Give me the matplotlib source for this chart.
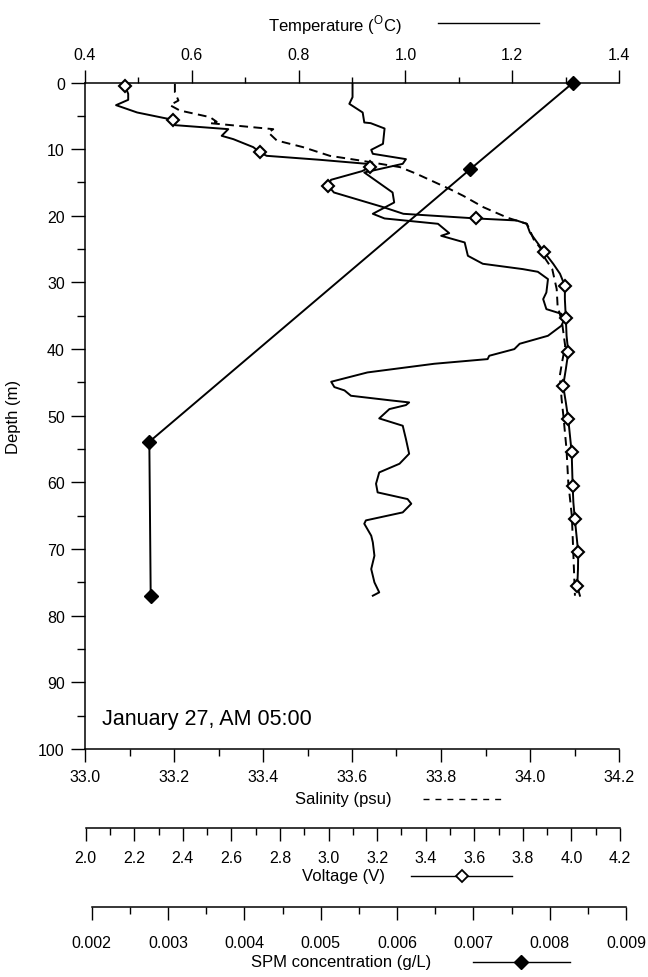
import matplotlib
matplotlib.use('Agg')
import matplotlib.pyplot as plt
from matplotlib.lines import Line2D
from matplotlib.ticker import MultipleLocator, FormatStrFormatter

plt.rcParams['font.family'] = ['Liberation Sans', 'DejaVu Sans']
plt.rcParams['mathtext.fontset'] = 'custom'
plt.rcParams['mathtext.rm'] = 'Liberation Sans'

# ---------------- data ----------------
temp_depth = [0.0, 2.2, 3.2, 4.5, 6.0, 6.1, 6.9, 9.2, 10.1, 10.7, 11.5, 12.2, 13.5, 16.5, 18.0,
              19.7, 20.4, 21.2, 22.6, 23.0, 24.0, 26.0, 27.2, 28.0, 28.4, 29.5, 31.5, 32.5, 34.0, 34.7,
              35.5, 36.5, 38.0, 39.2, 40.0, 41.0, 41.5, 42.2, 43.5, 44.9, 45.7, 46.2, 47.0, 47.7, 48.0,
              48.4, 49.0, 50.4, 51.5, 53.5, 55.7, 57.2, 58.5, 60.2, 61.5, 62.5, 63.2, 64.5, 65.7, 66.2,
              68.0, 69.0, 71.0, 73.0, 75.0, 76.5, 77.0]
temp_values = [0.901, 0.901, 0.895, 0.920, 0.923, 0.935, 0.961, 0.958, 0.936, 0.939, 1.001, 0.995, 0.923, 0.976, 0.979,
               0.939, 0.961, 1.061, 1.082, 1.067, 1.111, 1.117, 1.145, 1.220, 1.248, 1.267, 1.264, 1.258, 1.264, 1.292,
               1.298, 1.292, 1.267, 1.214, 1.204, 1.157, 1.154, 1.054, 0.929, 0.861, 0.867, 0.886, 0.898, 0.973, 1.007,
               1.001, 0.970, 0.951, 0.995, 1.001, 1.007, 0.989, 0.951, 0.945, 0.948, 1.004, 1.011, 0.995, 0.926, 0.923,
               0.936, 0.939, 0.942, 0.936, 0.942, 0.951, 0.939]

sal_depth = [0.2, 1.5, 2.7, 3.4, 4.2, 5.2, 5.9, 6.1, 7.0, 7.5, 8.7, 9.7, 11.0, 11.7, 12.7,
             13.7, 16.0, 17.0, 18.7, 20.3, 21.2, 22.2, 23.5, 25.0, 26.5, 28.0, 31.0, 33.5, 36.0, 39.5,
             42.0, 44.0, 47.5, 50.0, 55.0, 60.0, 65.0, 70.0, 77.0]
sal_values = [33.202, 33.202, 33.210, 33.191, 33.213, 33.281, 33.296, 33.281, 33.423, 33.412, 33.431, 33.49, 33.55, 33.618, 33.708,
              33.745, 33.820, 33.850, 33.895, 33.950, 33.993, 34.000, 34.008, 34.025, 34.035, 34.050, 34.060, 34.062, 34.072, 34.079,
              34.072, 34.067, 34.071, 34.075, 34.082, 34.086, 34.094, 34.097, 34.101]

volt_depth = [0.5, 1.7, 2.6, 3.4, 4.5, 5.3, 5.6, 6.4, 7.0, 8.0, 8.5, 9.7, 10.5, 11.0, 11.6, 12.2, 12.7, 13.3, 14.6,
              15.5, 16.5, 18.7, 19.7, 20.4, 20.7, 21.2, 22.5, 25.4, 27.2, 28.7, 30.5, 32.5, 35.4, 38.0, 40.5, 43.0,
              45.5, 48.0, 50.5, 53.0, 55.5, 58.0, 60.5, 63.0, 65.5, 68.0, 70.5, 73.0, 75.6, 77.0]
volt_values = [2.162, 2.175, 2.175, 2.125, 2.212, 2.319, 2.361, 2.368, 2.587, 2.560, 2.608, 2.690, 2.718, 2.745, 2.965, 3.157, 3.170, 3.138, 3.010,
               2.999, 3.022, 3.225, 3.308, 3.609, 3.774, 3.816, 3.829, 3.887, 3.925, 3.953, 3.973, 3.973, 3.977, 3.980, 3.987, 3.977,
               3.966, 3.977, 3.987, 3.994, 4.001, 4.003, 4.005, 4.008, 4.014, 4.021, 4.028, 4.027, 4.024, 4.035]
volt_marker_depths = [0.5, 5.6, 10.5, 12.7, 15.5, 20.4, 25.4, 30.5, 35.4, 40.5, 45.5, 50.5, 55.5, 60.5, 65.5, 70.5, 75.6]

spm_depth = [0.0, 13.0, 53.9, 77.1]
spm_values = [0.00831, 0.00696, 0.002755, 0.002773]

depth_ticks = list(range(0, 101, 10))
temp_range = (0.4, 1.4)
sal_range = (33.0, 34.2)
volt_range = (2.0, 4.2)
spm_range = (0.002, 0.009)

# ---------------- layout (pixels) ----------------
W, H = 648, 978
fig = plt.figure(figsize=(W / 100, H / 100), dpi=100)


def fx(px):
    return px / W


def fy(py):
    return 1 - py / H


L, R = 85, 619
TOP, BOT = 83.5, 750
V_L, V_R, V_Y = 85.7, 620, 829
S_L, S_R, S_Y = 91.7, 626, 908

FS = 11.5
FT = 12
LW_SP = 1.1

ax = fig.add_axes([fx(L), fy(BOT), (R - L) / W, (BOT - TOP) / H])
ax.set_xlim(*sal_range)
ax.set_ylim(100, 0)
for s in ['top', 'right']:
    ax.spines[s].set_visible(False)
for s in ['left', 'bottom']:
    ax.spines[s].set_linewidth(LW_SP)
ax.xaxis.set_major_locator(MultipleLocator(0.2))
ax.xaxis.set_minor_locator(MultipleLocator(0.1))
ax.xaxis.set_major_formatter(FormatStrFormatter('%.1f'))
ax.set_yticks(depth_ticks)
ax.yaxis.set_minor_locator(MultipleLocator(5))
ax.tick_params(axis='x', which='major', direction='out', length=9.5, width=1.0, pad=5, labelsize=FS)
ax.tick_params(axis='x', which='minor', direction='out', length=5, width=1.0)
ax.tick_params(axis='y', which='major', direction='out', length=10, width=1.0, pad=4.5, labelsize=FS)
ax.tick_params(axis='y', which='minor', direction='out', length=6, width=1.0)
ax.tick_params(top=False, right=False, which='both')

# temperature (top axis)
ax_t = ax.twiny()
ax_t.set_xlim(*temp_range)
for s in ['bottom', 'left', 'right']:
    ax_t.spines[s].set_visible(False)
ax_t.spines['top'].set_linewidth(LW_SP)
ax_t.xaxis.set_major_locator(MultipleLocator(0.2))
ax_t.xaxis.set_minor_locator(MultipleLocator(0.1))
ax_t.xaxis.set_major_formatter(FormatStrFormatter('%.1f'))
ax_t.tick_params(axis='x', which='major', direction='out', length=9.5, width=1.0, pad=5, labelsize=FS)
ax_t.tick_params(axis='x', which='minor', direction='out', length=4.5, width=1.0)

# voltage data axes (hidden), aligned with voltage scale below
vper = (volt_range[1] - volt_range[0]) / (V_R - V_L)
ax_v = ax.twiny()
ax_v.set_xlim(volt_range[0] + (L - V_L) * vper, volt_range[0] + (R - V_L) * vper)
ax_v.set_axis_off()

sper = (spm_range[1] - spm_range[0]) / (S_R - S_L)
ax_s = ax.twiny()
ax_s.set_xlim(spm_range[0] + (L - S_L) * sper, spm_range[0] + (R - S_L) * sper)
ax_s.set_axis_off()

# curves
ax_t.plot(temp_values, temp_depth, color='k', lw=1.4, zorder=3)
ax.plot(sal_values, sal_depth, color='k', lw=1.4, ls=(0, (4.5, 2.8)), zorder=3)
mk_idx = [volt_depth.index(d) for d in volt_marker_depths]
ax_v.plot(volt_values, volt_depth, color='k', lw=1.4, marker='D', markevery=mk_idx,
          ms=6.5, mfc='white', mec='k', mew=1.5, zorder=4, clip_on=False)
ax_s.plot(spm_values, spm_depth, color='k', lw=1.4, marker='D', ms=7, mfc='k', mec='k',
          zorder=5, clip_on=False)

# voltage scale strip
axv = fig.add_axes([fx(V_L), fy(V_Y), (V_R - V_L) / W, 0.0005])
axv.set_xlim(*volt_range)
axv.patch.set_visible(False)
for s in ['top', 'left', 'right']:
    axv.spines[s].set_visible(False)
axv.spines['bottom'].set_linewidth(LW_SP)
axv.set_yticks([])
axv.xaxis.set_major_locator(MultipleLocator(0.2))
axv.xaxis.set_minor_locator(MultipleLocator(0.1))
axv.xaxis.set_major_formatter(FormatStrFormatter('%.1f'))
axv.tick_params(axis='x', which='major', direction='out', length=9, width=1.0, pad=7, labelsize=FS)
axv.tick_params(axis='x', which='minor', direction='out', length=5, width=1.0)

# SPM scale strip
axs = fig.add_axes([fx(S_L), fy(S_Y), (S_R - S_L) / W, 0.0005])
axs.set_xlim(*spm_range)
axs.patch.set_visible(False)
for s in ['top', 'left', 'right']:
    axs.spines[s].set_visible(False)
axs.spines['bottom'].set_linewidth(LW_SP)
axs.set_yticks([])
axs.xaxis.set_major_locator(MultipleLocator(0.001))
axs.xaxis.set_minor_locator(MultipleLocator(0.0005))
axs.xaxis.set_major_formatter(FormatStrFormatter('%.3f'))
axs.tick_params(axis='x', which='major', direction='out', length=9.5, width=1.0, pad=11, labelsize=FS)
axs.tick_params(axis='x', which='minor', direction='out', length=5, width=1.0)

# titles with legend samples
fig.text(fx(268), fy(25), r'Temperature ($^{\mathrm{O}}$C)', ha='left', va='center', fontsize=FT)
fig.add_artist(Line2D([fx(437.6), fx(538.5)], [fy(24), fy(24)], transform=fig.transFigure, color='k', lw=1.0))

fig.text(fx(295), fy(800), 'Salinity (psu)', ha='left', va='center', fontsize=FT)
fig.add_artist(Line2D([fx(423), fx(506)], [fy(800), fy(800)], transform=fig.transFigure, color='k', lw=1.0,
                      ls=(0, (4.3, 4.3))))

fig.text(fx(302), fy(877), 'Voltage (V)', ha='left', va='center', fontsize=FT)
fig.add_artist(Line2D([fx(410.6), fx(512)], [fy(877), fy(877)], transform=fig.transFigure, color='k', lw=1.0))
fig.add_artist(Line2D([fx(462)], [fy(877)], transform=fig.transFigure, marker='D', ms=6.5, mfc='white',
                      mec='k', mew=1.3, ls='none'))

fig.text(fx(251), fy(963), 'SPM concentration (g/L)', ha='left', va='center', fontsize=FT)
fig.add_artist(Line2D([fx(472.5), fx(570)], [fy(963), fy(963)], transform=fig.transFigure, color='k', lw=1.0))
fig.add_artist(Line2D([fx(521)], [fy(963)], transform=fig.transFigure, marker='D', ms=7, mfc='k',
                      mec='k', ls='none'))

fig.text(fx(14), fy(417), 'Depth (m)', rotation=90, ha='center', va='center', fontsize=FT)
fig.text(fx(102), fy(720), 'January 27, AM 05:00', ha='left', va='center', fontsize=15.5)

fig.savefig('out.png', dpi=100)
